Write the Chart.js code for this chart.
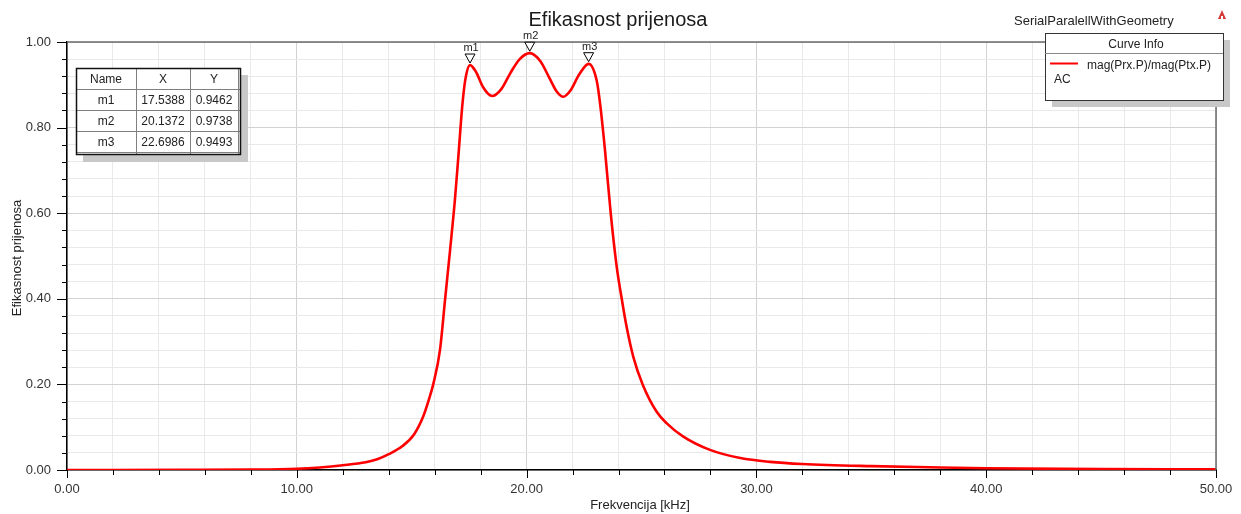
<!DOCTYPE html>
<html>
<head>
<meta charset="utf-8">
<script src="https://cdn.jsdelivr.net/npm/chart.js@4.4.0/dist/chart.umd.min.js"></script>
<style>
  html, body { margin: 0; padding: 0; background: #fff; }
  #wrap { width: 1241px; height: 514px; }
</style>
</head>
<body>
<div id="wrap"><canvas id="effChart" width="1241" height="514"></canvas></div>
<script>
// frequency [kHz] and transfer efficiency
const freqs = [0, 5, 8, 10, 11, 12, 13, 13.5, 14, 14.6, 15.1, 15.5, 15.75, 15.95, 16.23, 16.45, 16.67, 16.88, 17.03, 17.2, 17.33, 17.54,
    17.8, 18.1, 18.5, 18.9, 19.3, 19.7, 20.14, 20.6, 21.0, 21.3, 21.6, 21.9, 22.3, 22.7, 23.05, 23.2, 23.41, 23.66, 23.92,
    24.14, 24.35, 24.64, 25.05, 25.66, 26.1, 26.82, 27.98, 29.3, 30.6, 32, 35, 38, 40, 45, 50];
const efficiency = [0, 0.0003, 0.001, 0.003, 0.006, 0.011, 0.018, 0.025, 0.037, 0.056, 0.083, 0.125, 0.165, 0.203, 0.28, 0.397, 0.514, 0.631, 0.732, 0.85, 0.911, 0.946,
    0.93, 0.895, 0.874, 0.89, 0.928, 0.96, 0.974, 0.955, 0.915, 0.885, 0.872, 0.886, 0.925, 0.949, 0.91, 0.855, 0.748, 0.6, 0.475,
    0.4, 0.335, 0.265, 0.2, 0.136, 0.109, 0.078, 0.047, 0.028, 0.019, 0.014, 0.009, 0.006, 0.004, 0.002, 0.0015];

const markerNames = ['m1', 'm2', 'm3'];
const markerX = [17.5388, 20.1372, 22.6986];
const markerY = [0.9462, 0.9738, 0.9493];

const curveName = 'mag(Prx.P)/mag(Ptx.P)';
const FONT = '"Liberation Sans", Arial, sans-serif';

function isMajor(v, step) {
    return Math.abs(v / step - Math.round(v / step)) < 1e-6;
}

// everything that HFSS draws around the plot
const decorPlugin = {
    id: 'decor',
    afterDraw(chart) {
        const ctx = chart.ctx;
        const area = chart.chartArea;
        const xs = chart.scales.x, ys = chart.scales.y;
        ctx.save();

        // top and right frame
        ctx.strokeStyle = '#6b6b6b';
        ctx.lineWidth = 1.5;
        ctx.beginPath();
        ctx.moveTo(area.left, area.top);
        ctx.lineTo(area.right, area.top);
        ctx.lineTo(area.right, area.bottom);
        ctx.stroke();

        // tick marks
        ctx.strokeStyle = '#000';
        ctx.lineWidth = 1;
        ys.ticks.forEach(t => {
            const py = Math.round(ys.getPixelForValue(t.value)) + 0.5;
            const len = isMajor(t.value, 0.2) ? 10 : 5;
            ctx.beginPath(); ctx.moveTo(area.left - len, py); ctx.lineTo(area.left, py); ctx.stroke();
        });
        xs.ticks.forEach(t => {
            const px = Math.round(xs.getPixelForValue(t.value)) + 0.5;
            const len = isMajor(t.value, 10) ? 8 : 5;
            ctx.beginPath(); ctx.moveTo(px, area.bottom); ctx.lineTo(px, area.bottom + len); ctx.stroke();
        });

        // titles
        ctx.fillStyle = '#1a1a1a';
        ctx.textAlign = 'center';
        ctx.textBaseline = 'alphabetic';
        ctx.font = '20px ' + FONT;
        ctx.fillText('Efikasnost prijenosa', 618, 26);
        ctx.font = '13px ' + FONT;
        ctx.fillStyle = '#222';
        ctx.textAlign = 'left';
        ctx.fillText('SerialParalellWithGeometry', 1014, 25);
        ctx.textAlign = 'center';
        ctx.fillText('Frekvencija [kHz]', 640, 509);
        ctx.save();
        ctx.translate(21, 258);
        ctx.rotate(-Math.PI / 2);
        ctx.fillText('Efikasnost prijenosa', 0, 0);
        ctx.restore();

        // small icon top right
        ctx.fillStyle = '#d83a3a';
        ctx.beginPath();
        ctx.moveTo(1222, 10); ctx.lineTo(1226, 19); ctx.lineTo(1218, 19); ctx.closePath();
        ctx.fill();
        ctx.fillStyle = '#fff';
        ctx.fillRect(1221, 16, 2, 3);

        // markers
        markerNames.forEach((name, i) => {
            const px = xs.getPixelForValue(markerX[i]);
            const py = ys.getPixelForValue(markerY[i]) - 2;
            ctx.beginPath();
            ctx.moveTo(px, py);
            ctx.lineTo(px - 5, py - 9);
            ctx.lineTo(px + 5, py - 9);
            ctx.closePath();
            ctx.fillStyle = '#fff';
            ctx.fill();
            ctx.strokeStyle = '#000';
            ctx.lineWidth = 1;
            ctx.stroke();
            ctx.fillStyle = '#222';
            ctx.font = '11px ' + FONT;
            ctx.textAlign = 'center';
            ctx.fillText(name, px + 1, py - 12);
        });

        // marker table
        const tx = 76, ty = 68;
        const colX = [76, 136, 190, 238];
        const rowY = [68, 89, 110, 131, 152];
        ctx.fillStyle = '#c8c8c8';
        ctx.fillRect(tx + 7, ty + 7, 241 - tx, 155 - ty);
        ctx.fillStyle = '#fff';
        ctx.fillRect(tx, ty, 241 - tx, 155 - ty);
        ctx.strokeStyle = '#808080';
        ctx.lineWidth = 1;
        colX.forEach(cx => {
            ctx.beginPath(); ctx.moveTo(cx + 0.5, ty); ctx.lineTo(cx + 0.5, 155); ctx.stroke();
        });
        rowY.forEach(ry => {
            ctx.beginPath(); ctx.moveTo(tx, ry + 0.5); ctx.lineTo(241, ry + 0.5); ctx.stroke();
        });
        ctx.strokeStyle = '#111';
        ctx.lineWidth = 1.5;
        ctx.strokeRect(tx + 0.5, ty + 0.5, 241 - tx - 1, 155 - ty - 1);
        ctx.font = '12px ' + FONT;
        ctx.fillStyle = '#222';
        ctx.textAlign = 'center';
        const header = ['Name', 'X', 'Y'];
        header.forEach((h, c) => ctx.fillText(h, (colX[c] + colX[c + 1]) / 2, rowY[0] + 15));
        markerNames.forEach((name, i) => {
            const base = rowY[i + 1] + 15;
            ctx.fillText(name, (colX[0] + colX[1]) / 2, base);
            ctx.fillText(markerX[i].toFixed(4), (colX[1] + colX[2]) / 2, base);
            ctx.fillText(markerY[i].toFixed(4), (colX[2] + colX[3]) / 2, base);
        });

        // curve info box
        const lx = 1045, ly = 33, lw = 178, lh = 67;
        ctx.fillStyle = '#c8c8c8';
        ctx.fillRect(lx + 7, ly + 7, lw, lh);
        ctx.fillStyle = '#fff';
        ctx.fillRect(lx, ly, lw, lh);
        ctx.strokeStyle = '#333';
        ctx.lineWidth = 1;
        ctx.strokeRect(lx + 0.5, ly + 0.5, lw, lh);
        ctx.strokeStyle = '#888';
        ctx.beginPath(); ctx.moveTo(lx, 53.5); ctx.lineTo(lx + lw, 53.5); ctx.stroke();
        ctx.fillStyle = '#222';
        ctx.font = '12px ' + FONT;
        ctx.textAlign = 'center';
        ctx.fillText('Curve Info', 1136, 48);
        ctx.strokeStyle = '#ff0000';
        ctx.lineWidth = 2;
        ctx.beginPath(); ctx.moveTo(1050, 63.5); ctx.lineTo(1078, 63.5); ctx.stroke();
        ctx.textAlign = 'left';
        ctx.fillText(curveName, 1087, 69);
        ctx.fillText('AC', 1054, 83);

        ctx.restore();
    }
};

const ctx = document.getElementById('effChart').getContext('2d');
const chart = new Chart(ctx, {
    type: 'line',
    data: {
        datasets: [{
            label: curveName,
            data: freqs.map((f, i) => ({ x: f, y: efficiency[i] })),
            borderColor: '#ff0000',
            borderWidth: 2.6,
            pointRadius: 0,
            cubicInterpolationMode: 'monotone',
            fill: false
        }]
    },
    options: {
        responsive: false,
        animation: false,
        layout: { padding: { top: 42, right: 25, left: 0, bottom: 0 } },
        plugins: {
            legend: { display: false },
            title: { display: false },
            tooltip: { enabled: false }
        },
        scales: {
            x: {
                type: 'linear',
                min: 0,
                max: 50,
                afterFit: s => { s.height = 44; s.paddingRight = 0; s.paddingLeft = 0; },
                ticks: {
                    stepSize: 2,
                    autoSkip: false,
                    maxRotation: 0,
                    padding: 12,
                    color: '#333',
                    font: { family: FONT, size: 13 },
                    callback: v => isMajor(v, 10) ? v.toFixed(2) : ''
                },
                grid: {
                    drawTicks: false,
                    color: c => isMajor(c.tick.value, 10) ? '#d2d2d2' : '#e9e9e9',
                    lineWidth: 1
                },
                border: { display: true, color: '#000', width: 1.5 }
            },
            y: {
                min: 0,
                max: 1,
                afterFit: s => { s.width = 67; },
                ticks: {
                    stepSize: 0.04,
                    autoSkip: false,
                    padding: 16,
                    color: '#333',
                    font: { family: FONT, size: 13 },
                    callback: v => isMajor(v, 0.2) ? v.toFixed(2) : ''
                },
                grid: {
                    drawTicks: false,
                    color: c => isMajor(c.tick.value, 0.2) ? '#d2d2d2' : '#e9e9e9',
                    lineWidth: 1
                },
                border: { display: true, color: '#000', width: 1.5 }
            }
        }
    },
    plugins: [decorPlugin]
});
</script>
</body>
</html>
